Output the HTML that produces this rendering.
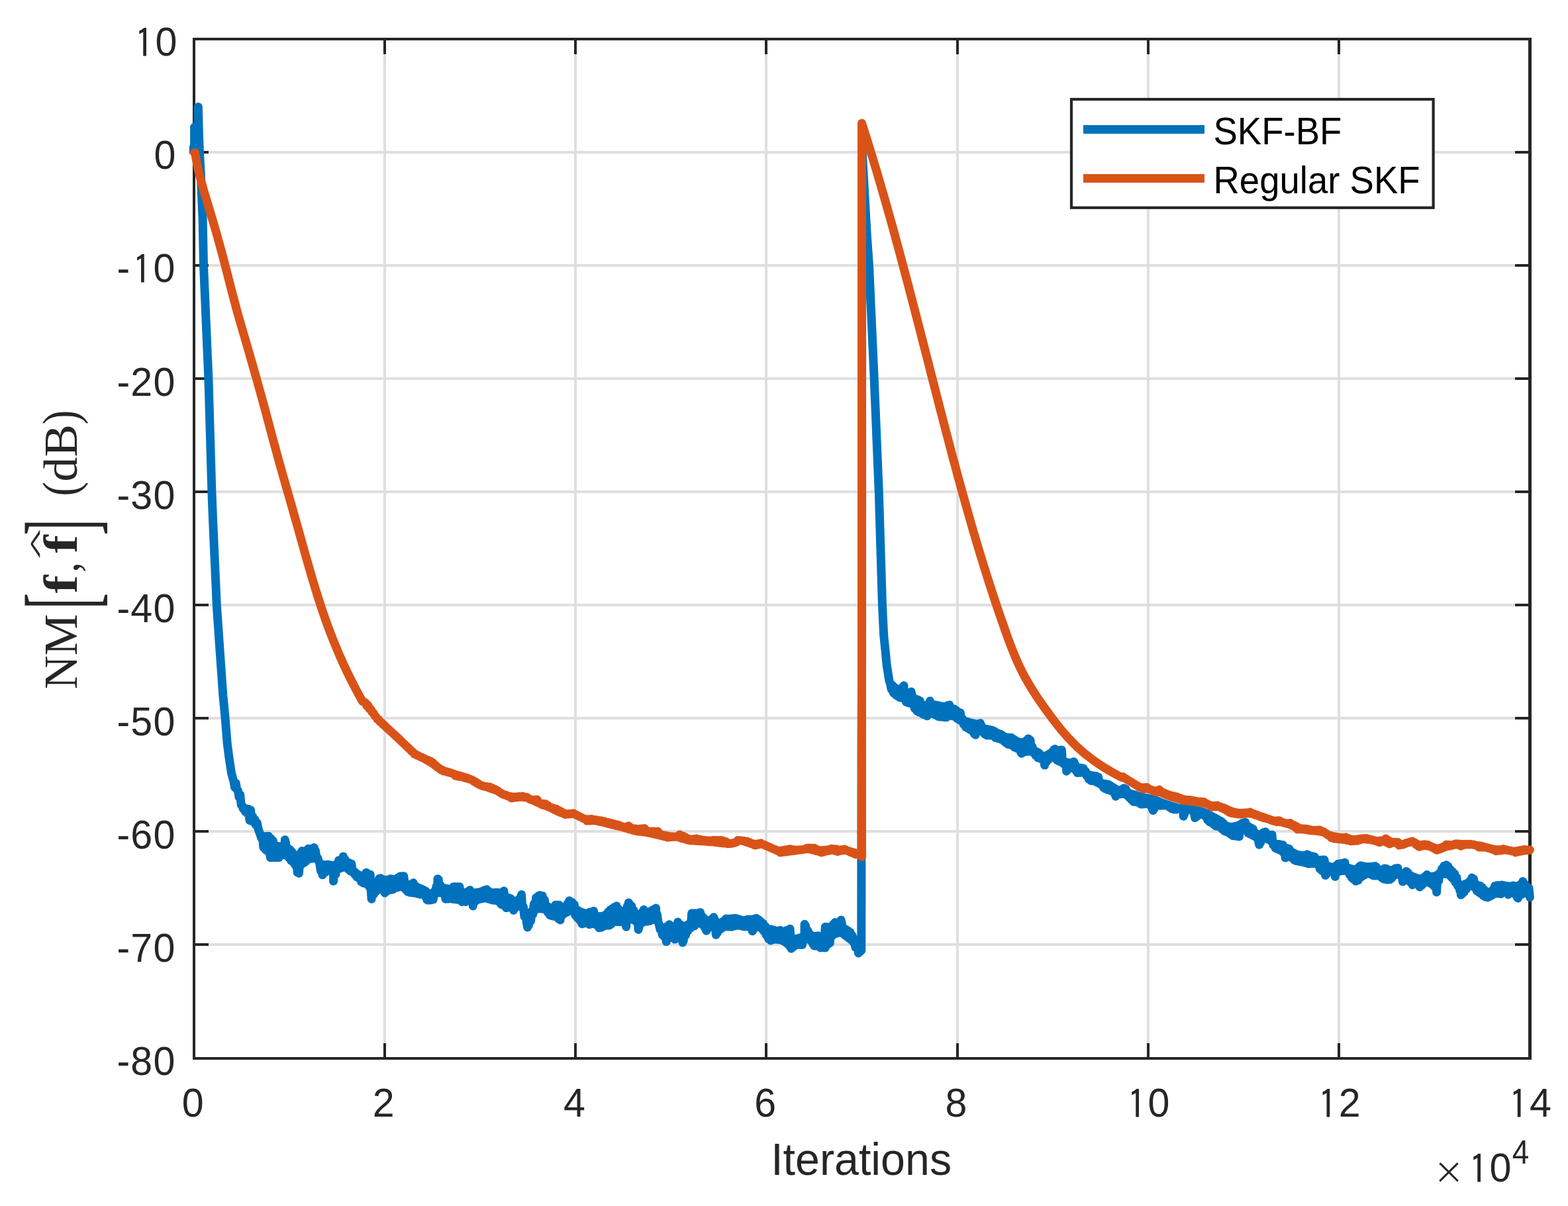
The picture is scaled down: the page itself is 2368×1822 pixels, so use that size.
<!DOCTYPE html>
<html lang="en">
<head>
<meta charset="utf-8">
<title>NM[f, f̂] (dB) vs Iterations — SKF-BF and Regular SKF</title>
<style>
html,body{margin:0;padding:0;background:#fff;}
body{width:2368px;height:1822px;overflow:hidden;}
svg{display:block;}
</style>
</head>
<body>
<svg width="2368" height="1822" viewBox="0 0 2368 1822">
<rect width="2368" height="1822" fill="#fff"/>
<g fill="#dfdfdf" shape-rendering="crispEdges">
<rect x="579" y="61" width="4" height="1536"/>
<rect x="867" y="61" width="4" height="1536"/>
<rect x="1155" y="61" width="4" height="1536"/>
<rect x="1444" y="61" width="4" height="1536"/>
<rect x="1732" y="61" width="4" height="1536"/>
<rect x="2020" y="61" width="4" height="1536"/>
<rect x="295" y="228" width="2013" height="4"/>
<rect x="295" y="399" width="2013" height="4"/>
<rect x="295" y="570" width="2013" height="4"/>
<rect x="295" y="741" width="2013" height="4"/>
<rect x="295" y="912" width="2013" height="4"/>
<rect x="295" y="1083" width="2013" height="4"/>
<rect x="295" y="1254" width="2013" height="4"/>
<rect x="295" y="1425" width="2013" height="4"/>
</g>
<g fill="#262626" shape-rendering="crispEdges">
<rect x="579" y="1576" width="4" height="21"/><rect x="579" y="61" width="4" height="21"/>
<rect x="867" y="1576" width="4" height="21"/><rect x="867" y="61" width="4" height="21"/>
<rect x="1155" y="1576" width="4" height="21"/><rect x="1155" y="61" width="4" height="21"/>
<rect x="1444" y="1576" width="4" height="21"/><rect x="1444" y="61" width="4" height="21"/>
<rect x="1732" y="1576" width="4" height="21"/><rect x="1732" y="61" width="4" height="21"/>
<rect x="2020" y="1576" width="4" height="21"/><rect x="2020" y="61" width="4" height="21"/>
<rect x="295" y="228" width="20" height="4"/><rect x="2288" y="228" width="20" height="4"/>
<rect x="295" y="399" width="20" height="4"/><rect x="2288" y="399" width="20" height="4"/>
<rect x="295" y="570" width="20" height="4"/><rect x="2288" y="570" width="20" height="4"/>
<rect x="295" y="741" width="20" height="4"/><rect x="2288" y="741" width="20" height="4"/>
<rect x="295" y="912" width="20" height="4"/><rect x="2288" y="912" width="20" height="4"/>
<rect x="295" y="1083" width="20" height="4"/><rect x="2288" y="1083" width="20" height="4"/>
<rect x="295" y="1254" width="20" height="4"/><rect x="2288" y="1254" width="20" height="4"/>
<rect x="295" y="1425" width="20" height="4"/><rect x="2288" y="1425" width="20" height="4"/>
<rect x="291" y="57" width="2022" height="4"/><rect x="291" y="1597" width="2022" height="4"/>
<rect x="291" y="57" width="4" height="1544"/><rect x="2308" y="57" width="5" height="1544"/>
</g>
<path d="M292.4 229.0 L292.4 222.0 L293.6 221.0 L293.6 192.2 L299.3 192.2 L299.3 161.5 L300.3 200.0 L301.4 230.0 L303.1 260.0 L306.1 330.0 L307.5 401.2 L314.9 572.3 L319.9 743.5 L321.8 791.5 L327.3 914.5 L332.0 982.3 L336.8 1050.0 L340.1 1084.8 L343.2 1123.3 L346.0 1145.0 L349.5 1168.0 L353.0 1180.7 L354.6 1189.7 L356.2 1183.4 L357.8 1192.9 L359.4 1194.3 L361.0 1204.3 L362.6 1200.5 L364.2 1216.0 L365.8 1217.5 L367.4 1222.3 L369.0 1220.8 L370.6 1226.4 L372.2 1221.7 L373.8 1229.1 L375.4 1222.4 L377.0 1239.4 L378.6 1224.2 L380.2 1240.6 L381.8 1233.9 L383.4 1242.4 L385.0 1238.3 L386.6 1246.7 L388.2 1243.0 L389.9 1251.5 L391.5 1256.8 L393.1 1260.8 L394.7 1266.3 L396.3 1263.5 L397.9 1280.3 L399.5 1263.6 L401.1 1283.8 L402.7 1263.4 L404.3 1286.2 L405.6 1263.3 L405.9 1264.6 L407.5 1288.5 L408.3 1295.6 L409.1 1266.7 L410.7 1295.6 L412.3 1270.2 L413.9 1295.6 L415.5 1277.0 L417.1 1295.6 L418.7 1278.3 L420.3 1293.2 L421.2 1295.6 L421.9 1278.8 L423.5 1291.5 L425.1 1279.2 L426.7 1291.5 L428.3 1278.2 L429.9 1291.8 L430.3 1268.8 L431.5 1273.4 L433.1 1292.6 L434.7 1281.5 L436.3 1295.9 L437.9 1283.6 L439.5 1300.3 L441.1 1287.3 L442.7 1302.6 L444.3 1291.8 L445.9 1307.1 L447.5 1292.4 L449.1 1318.1 L450.7 1292.2 L451.4 1319.4 L452.3 1308.7 L453.9 1288.7 L455.5 1305.9 L456.0 1285.6 L457.1 1286.6 L458.7 1303.7 L460.3 1287.4 L462.0 1301.2 L463.6 1286.7 L465.2 1282.3 L465.2 1298.6 L466.8 1283.8 L468.4 1297.4 L470.0 1282.3 L471.6 1297.0 L473.2 1281.8 L474.3 1280.5 L474.8 1296.6 L476.4 1285.2 L478.0 1296.8 L479.6 1296.0 L481.2 1300.9 L482.8 1304.5 L484.4 1315.8 L486.0 1306.5 L487.1 1321.8 L487.6 1320.2 L489.2 1306.6 L490.8 1318.0 L492.4 1306.4 L494.0 1315.7 L495.6 1306.2 L496.3 1306.2 L497.2 1314.8 L498.8 1306.8 L500.4 1316.1 L502.0 1307.4 L503.6 1321.4 L503.6 1331.3 L505.2 1307.3 L506.8 1320.9 L508.4 1305.3 L510.0 1313.4 L511.6 1299.7 L513.2 1312.0 L514.8 1299.1 L516.4 1311.0 L518.0 1296.9 L518.3 1293.9 L519.6 1310.3 L521.2 1298.7 L522.8 1310.9 L524.4 1302.3 L526.0 1313.4 L527.6 1303.6 L529.2 1316.1 L530.8 1305.2 L532.4 1317.5 L534.1 1315.7 L535.7 1321.3 L537.3 1318.6 L538.9 1325.0 L540.5 1320.9 L542.1 1326.9 L543.7 1322.8 L545.3 1331.8 L546.9 1323.1 L548.5 1334.1 L550.1 1321.7 L551.7 1334.9 L553.1 1318.3 L553.3 1319.5 L554.9 1336.1 L556.5 1333.5 L558.1 1340.5 L559.2 1321.3 L559.7 1338.0 L561.1 1358.2 L561.3 1351.1 L562.9 1339.5 L564.5 1350.8 L566.1 1338.5 L567.7 1347.0 L569.3 1334.7 L570.9 1343.9 L572.5 1327.6 L574.1 1343.4 L574.8 1326.8 L575.7 1327.6 L577.3 1344.3 L578.9 1328.8 L580.5 1347.6 L581.2 1349.0 L582.1 1329.6 L583.7 1346.3 L585.3 1329.0 L586.9 1345.0 L588.5 1328.2 L589.5 1327.7 L590.1 1344.6 L591.7 1328.1 L593.3 1343.7 L594.9 1328.6 L596.5 1341.7 L598.1 1328.1 L599.7 1340.8 L601.3 1325.9 L602.9 1340.0 L604.5 1323.9 L606.1 1339.6 L607.8 1323.8 L609.4 1340.5 L609.7 1323.7 L611.0 1332.7 L612.6 1344.0 L614.2 1336.1 L615.8 1347.3 L617.4 1336.7 L619.0 1348.3 L620.6 1335.9 L622.2 1348.8 L623.8 1334.6 L624.3 1333.8 L625.4 1349.0 L627.0 1338.3 L628.6 1349.5 L630.2 1340.5 L631.8 1350.5 L633.4 1341.7 L635.0 1351.2 L636.6 1342.9 L638.2 1351.5 L639.8 1344.5 L641.4 1353.2 L643.0 1346.4 L644.6 1358.8 L645.4 1360.0 L646.2 1349.3 L647.8 1359.9 L649.4 1350.6 L651.0 1359.8 L652.6 1349.8 L654.2 1358.8 L655.8 1346.8 L657.4 1350.5 L659.0 1339.1 L660.6 1348.8 L661.0 1327.7 L662.2 1328.6 L663.8 1348.7 L665.4 1337.9 L667.0 1348.8 L668.6 1341.0 L670.2 1350.9 L671.8 1341.8 L672.9 1358.2 L673.4 1357.6 L675.0 1342.4 L676.6 1358.0 L678.2 1343.2 L679.9 1357.8 L681.5 1342.9 L683.1 1358.2 L684.7 1341.1 L684.8 1339.7 L686.3 1358.6 L687.9 1339.7 L689.5 1358.9 L691.1 1339.7 L692.7 1359.2 L694.0 1339.7 L694.3 1344.4 L695.9 1359.6 L697.5 1348.1 L697.7 1362.4 L699.1 1361.6 L700.7 1348.7 L702.3 1360.0 L703.2 1362.4 L703.9 1347.9 L705.5 1357.2 L707.1 1346.6 L708.7 1356.2 L709.6 1344.8 L710.3 1346.4 L711.9 1357.4 L713.5 1348.3 L714.2 1368.8 L715.1 1362.7 L716.7 1348.8 L718.3 1361.2 L719.9 1348.4 L721.5 1359.0 L723.1 1348.0 L724.7 1358.3 L726.3 1347.2 L727.9 1357.7 L729.5 1345.8 L731.1 1357.1 L732.7 1344.5 L734.3 1357.2 L735.2 1343.7 L735.9 1344.9 L737.5 1358.1 L739.1 1347.2 L740.7 1359.1 L742.3 1348.6 L743.9 1359.9 L745.5 1348.7 L747.1 1360.3 L748.7 1348.6 L750.3 1360.7 L750.8 1348.5 L752.0 1348.5 L753.6 1362.5 L755.2 1348.8 L756.8 1366.2 L758.4 1348.5 L760.0 1367.6 L760.9 1346.1 L761.6 1352.2 L763.2 1368.8 L764.6 1371.6 L764.8 1355.5 L766.4 1371.1 L768.0 1356.4 L769.6 1370.7 L771.2 1357.7 L772.8 1371.8 L774.4 1360.3 L775.6 1375.2 L776.0 1373.9 L777.6 1361.4 L779.2 1370.7 L780.8 1361.1 L782.4 1369.3 L784.0 1358.3 L785.6 1369.3 L787.2 1352.7 L787.5 1351.6 L788.8 1371.2 L790.4 1369.9 L792.0 1384.7 L793.6 1378.4 L795.2 1392.7 L796.6 1400.9 L796.8 1379.0 L798.4 1397.8 L800.0 1379.2 L801.6 1391.2 L803.2 1376.4 L804.8 1381.1 L806.4 1365.5 L808.0 1375.1 L809.6 1356.2 L811.2 1372.8 L812.8 1353.6 L814.4 1372.6 L815.0 1352.5 L816.0 1352.8 L817.6 1373.0 L819.2 1353.5 L820.8 1373.4 L822.4 1359.6 L824.1 1374.5 L825.7 1368.5 L827.3 1378.5 L828.9 1370.3 L830.5 1382.7 L832.1 1371.5 L833.7 1383.7 L835.3 1371.4 L836.9 1384.3 L838.5 1369.4 L838.8 1367.2 L840.1 1385.2 L841.7 1367.2 L843.3 1388.0 L844.3 1367.2 L844.9 1368.8 L846.1 1389.9 L846.5 1387.1 L848.1 1370.5 L849.7 1382.0 L851.3 1370.6 L852.9 1379.8 L854.5 1368.7 L856.1 1378.2 L857.7 1364.2 L859.3 1376.7 L859.9 1360.7 L860.9 1362.0 L862.5 1376.3 L864.1 1363.4 L865.7 1377.5 L867.3 1366.8 L868.9 1382.9 L870.5 1373.9 L872.1 1387.0 L873.7 1376.0 L875.3 1390.1 L876.9 1377.7 L878.5 1395.1 L879.1 1395.9 L880.1 1378.8 L881.7 1395.0 L883.3 1379.8 L884.9 1394.6 L886.5 1379.7 L888.1 1395.4 L889.7 1378.6 L890.1 1396.7 L891.3 1396.2 L892.9 1377.6 L894.5 1395.5 L896.2 1376.7 L896.6 1376.3 L897.8 1395.8 L899.4 1382.7 L901.0 1397.8 L902.6 1384.4 L904.2 1400.1 L904.8 1401.8 L905.8 1384.4 L907.4 1401.3 L909.0 1383.9 L910.6 1400.0 L912.2 1383.4 L913.8 1398.5 L915.4 1381.2 L917.0 1398.1 L918.6 1377.5 L920.2 1398.1 L921.8 1374.5 L923.4 1395.9 L925.0 1372.3 L926.6 1393.1 L928.2 1370.2 L929.8 1392.5 L931.0 1368.8 L931.4 1370.4 L933.0 1392.5 L934.6 1374.0 L936.2 1392.5 L937.8 1376.3 L939.4 1392.7 L941.0 1376.8 L942.6 1394.3 L944.2 1375.5 L945.7 1400.2 L945.8 1397.5 L947.4 1368.9 L949.0 1390.2 L949.3 1363.7 L950.6 1365.4 L952.2 1389.0 L953.8 1369.1 L955.4 1389.3 L957.0 1375.4 L958.6 1390.9 L960.2 1380.0 L961.8 1393.5 L963.4 1381.5 L964.0 1404.4 L965.0 1400.7 L966.6 1380.9 L968.3 1394.8 L969.9 1378.1 L971.5 1392.8 L972.2 1374.3 L973.1 1375.8 L974.7 1392.3 L976.3 1377.4 L977.9 1392.0 L979.5 1377.8 L981.1 1391.4 L982.7 1376.6 L984.3 1389.8 L985.9 1374.5 L987.5 1389.0 L989.1 1373.0 L990.6 1372.1 L990.7 1389.6 L992.3 1381.4 L993.9 1393.0 L995.5 1397.3 L997.1 1404.5 L998.7 1401.0 L1000.3 1412.3 L1001.9 1401.6 L1003.5 1415.6 L1005.1 1400.8 L1006.2 1422.7 L1006.7 1421.0 L1008.3 1398.9 L1009.9 1417.4 L1010.7 1396.7 L1011.5 1398.2 L1013.1 1416.4 L1014.7 1399.8 L1016.3 1417.0 L1017.9 1399.5 L1019.0 1419.1 L1019.5 1418.5 L1021.1 1397.6 L1022.7 1417.5 L1023.6 1393.0 L1024.3 1394.8 L1025.9 1417.4 L1027.5 1396.8 L1029.1 1419.3 L1030.7 1398.4 L1030.9 1424.0 L1032.3 1420.7 L1033.9 1398.9 L1035.5 1412.8 L1037.1 1398.0 L1038.7 1406.5 L1040.4 1395.9 L1042.0 1402.6 L1043.6 1393.7 L1044.7 1379.8 L1045.2 1400.6 L1046.8 1380.0 L1048.4 1398.9 L1050.0 1379.8 L1051.6 1395.8 L1053.2 1379.7 L1054.8 1394.5 L1056.4 1378.9 L1057.5 1378.4 L1058.0 1395.0 L1059.6 1383.5 L1061.2 1397.4 L1062.8 1386.9 L1064.4 1401.6 L1066.0 1389.7 L1066.7 1406.2 L1067.6 1405.1 L1069.2 1390.6 L1070.8 1400.4 L1072.4 1390.1 L1074.0 1398.7 L1075.6 1388.0 L1077.2 1398.4 L1077.7 1385.7 L1078.8 1387.9 L1080.4 1400.8 L1081.3 1412.3 L1082.0 1393.0 L1083.6 1408.9 L1085.2 1394.2 L1086.8 1404.6 L1088.4 1394.0 L1090.0 1402.5 L1091.6 1392.2 L1093.2 1400.5 L1094.8 1390.4 L1096.0 1388.1 L1096.4 1399.8 L1098.0 1388.2 L1099.6 1400.0 L1101.2 1388.1 L1102.8 1400.1 L1104.4 1388.0 L1105.2 1400.2 L1106.0 1399.8 L1107.6 1387.6 L1109.2 1399.0 L1110.7 1387.2 L1110.8 1387.4 L1112.4 1398.2 L1114.1 1388.2 L1115.7 1398.1 L1117.3 1389.1 L1118.9 1398.8 L1120.5 1390.2 L1122.1 1399.4 L1123.5 1399.8 L1123.7 1390.8 L1125.3 1399.8 L1126.9 1390.0 L1128.5 1399.8 L1129.0 1389.0 L1130.1 1389.0 L1131.7 1400.1 L1133.3 1389.0 L1134.9 1402.2 L1136.3 1406.8 L1136.5 1389.0 L1138.1 1404.0 L1139.7 1388.2 L1141.3 1400.9 L1141.8 1387.2 L1142.9 1387.7 L1144.5 1399.9 L1146.1 1389.8 L1147.7 1400.7 L1149.3 1392.6 L1150.9 1403.8 L1152.5 1395.3 L1154.1 1407.6 L1155.7 1399.5 L1157.3 1413.1 L1158.9 1402.8 L1160.5 1418.4 L1162.1 1403.8 L1163.7 1420.7 L1163.8 1420.9 L1165.3 1404.3 L1166.9 1419.9 L1168.5 1405.3 L1170.1 1419.1 L1171.7 1406.2 L1173.3 1419.3 L1174.9 1406.2 L1176.5 1419.7 L1178.1 1405.8 L1178.5 1405.5 L1179.7 1420.1 L1181.3 1407.1 L1182.9 1421.6 L1184.5 1407.1 L1186.2 1423.8 L1187.8 1405.4 L1189.4 1426.3 L1191.0 1406.2 L1192.6 1429.5 L1193.1 1403.3 L1194.2 1417.4 L1195.0 1433.2 L1195.8 1432.2 L1197.4 1419.0 L1199.0 1429.8 L1200.6 1418.9 L1202.2 1427.6 L1203.8 1417.9 L1205.4 1427.3 L1207.0 1417.0 L1208.6 1427.3 L1210.2 1416.3 L1211.5 1427.3 L1211.8 1424.5 L1213.4 1414.2 L1215.0 1419.8 L1215.1 1396.3 L1216.6 1399.0 L1218.2 1418.4 L1219.8 1405.9 L1221.4 1418.8 L1223.0 1411.0 L1224.6 1421.6 L1226.2 1413.9 L1227.8 1426.4 L1229.4 1414.6 L1229.8 1429.1 L1231.0 1429.0 L1232.6 1414.2 L1234.2 1429.1 L1235.3 1413.7 L1235.8 1415.1 L1237.4 1429.5 L1239.0 1431.9 L1239.0 1416.2 L1240.6 1431.5 L1242.2 1415.9 L1243.8 1431.1 L1245.4 1412.8 L1246.3 1400.3 L1246.3 1431.9 L1247.0 1428.0 L1248.6 1400.6 L1250.2 1427.0 L1251.8 1400.8 L1253.4 1424.7 L1255.0 1399.9 L1256.6 1413.8 L1258.3 1396.4 L1259.9 1411.2 L1261.0 1393.6 L1261.5 1393.8 L1263.1 1410.2 L1264.7 1394.0 L1266.3 1409.3 L1267.9 1393.9 L1269.5 1409.2 L1270.1 1389.9 L1271.1 1394.2 L1272.7 1410.6 L1274.3 1402.1 L1275.9 1413.0 L1277.5 1404.2 L1279.1 1415.4 L1280.7 1406.2 L1282.3 1417.8 L1283.9 1408.3 L1285.5 1420.2 L1287.1 1413.5 L1288.7 1423.6 L1290.3 1418.8 L1291.9 1431.3 L1293.5 1420.1 L1296.5 1440.0 L1300.8 1436.0 L1301.0 1140.0 L1301.6 1000.0 L1301.6 188.0 L1302.3 231.0 L1307.8 330.0 L1309.6 360.8 L1312.5 401.2 L1320.2 572.3 L1327.3 743.5 L1328.7 790.0 L1332.5 914.5 L1334.7 960.0 L1336.6 978.3 L1339.3 1005.8 L1343.0 1029.0 L1344.6 1033.0 L1346.2 1041.6 L1347.8 1035.2 L1349.4 1047.0 L1351.0 1038.3 L1352.6 1049.7 L1354.2 1041.1 L1355.8 1052.0 L1357.4 1041.4 L1359.0 1053.9 L1360.6 1040.1 L1362.2 1054.4 L1363.8 1039.3 L1365.0 1035.8 L1365.4 1055.9 L1367.0 1046.1 L1368.6 1060.7 L1370.2 1047.0 L1371.8 1061.9 L1373.4 1046.5 L1375.0 1062.6 L1376.0 1045.0 L1376.6 1047.0 L1378.2 1064.2 L1379.8 1054.5 L1381.4 1070.4 L1383.0 1056.2 L1384.6 1074.0 L1386.2 1057.2 L1387.8 1076.0 L1389.4 1059.0 L1391.0 1077.1 L1392.7 1064.5 L1394.3 1079.5 L1395.9 1065.8 L1397.5 1079.8 L1399.1 1066.0 L1399.8 1081.8 L1400.7 1077.6 L1402.3 1063.7 L1403.9 1077.4 L1404.4 1059.1 L1405.5 1062.8 L1407.1 1078.3 L1408.7 1064.4 L1410.3 1079.2 L1411.9 1064.9 L1413.5 1080.7 L1415.1 1065.4 L1416.7 1082.5 L1418.3 1066.2 L1419.9 1083.0 L1421.5 1067.0 L1423.1 1083.2 L1424.7 1067.5 L1426.3 1083.5 L1427.9 1067.5 L1429.2 1083.7 L1429.5 1081.9 L1431.1 1065.8 L1432.7 1081.0 L1433.7 1065.1 L1434.3 1068.7 L1435.9 1081.3 L1437.5 1070.1 L1439.1 1081.9 L1440.7 1070.9 L1442.3 1083.2 L1443.9 1072.8 L1445.5 1085.7 L1447.1 1075.6 L1448.7 1087.6 L1450.3 1076.9 L1451.9 1089.3 L1453.5 1085.7 L1455.1 1094.1 L1456.7 1089.0 L1458.3 1098.4 L1459.9 1090.1 L1461.5 1100.2 L1463.1 1091.0 L1464.7 1102.2 L1466.3 1091.9 L1467.9 1104.2 L1469.5 1092.7 L1471.1 1108.4 L1472.7 1093.5 L1473.2 1110.2 L1474.3 1106.6 L1475.9 1093.8 L1477.5 1104.2 L1479.1 1093.2 L1480.5 1092.6 L1480.7 1104.1 L1482.3 1096.7 L1483.9 1105.6 L1485.5 1100.3 L1487.1 1109.1 L1488.8 1101.3 L1490.4 1110.9 L1492.0 1101.8 L1493.6 1111.0 L1495.2 1102.4 L1496.8 1111.1 L1498.4 1103.2 L1500.0 1111.9 L1501.6 1104.7 L1503.2 1114.6 L1504.8 1106.8 L1506.4 1115.5 L1508.0 1108.0 L1509.6 1116.0 L1511.2 1109.2 L1512.8 1117.6 L1514.4 1111.2 L1516.0 1119.8 L1517.6 1113.2 L1519.2 1122.4 L1520.8 1114.1 L1522.4 1124.5 L1524.0 1114.3 L1525.6 1125.0 L1527.2 1114.5 L1528.8 1126.5 L1530.4 1116.4 L1532.0 1129.1 L1533.6 1118.7 L1535.2 1130.3 L1536.8 1120.3 L1538.4 1131.7 L1540.0 1121.2 L1541.6 1136.5 L1542.8 1138.3 L1543.2 1121.9 L1544.8 1136.8 L1546.4 1121.3 L1548.0 1135.9 L1549.6 1118.9 L1551.2 1135.5 L1552.8 1116.4 L1552.9 1115.9 L1554.4 1135.1 L1556.0 1118.4 L1557.6 1135.3 L1559.2 1128.6 L1560.8 1137.5 L1562.4 1134.2 L1564.0 1141.3 L1565.6 1135.7 L1567.2 1144.7 L1568.8 1137.3 L1570.4 1145.9 L1572.0 1140.5 L1573.6 1146.5 L1575.2 1142.3 L1576.8 1149.5 L1577.6 1156.1 L1578.4 1142.2 L1580.0 1151.0 L1581.6 1140.7 L1583.2 1147.8 L1584.9 1138.8 L1586.5 1145.0 L1588.1 1136.5 L1589.7 1144.3 L1591.3 1132.8 L1592.9 1145.3 L1593.2 1131.5 L1594.5 1132.8 L1596.1 1148.4 L1597.7 1133.6 L1599.3 1150.2 L1600.9 1133.3 L1602.5 1151.3 L1603.3 1133.0 L1604.1 1144.7 L1605.7 1153.6 L1607.3 1150.7 L1608.9 1156.3 L1610.5 1151.7 L1610.6 1165.2 L1612.1 1163.4 L1613.7 1152.2 L1615.3 1160.5 L1616.9 1152.5 L1618.5 1159.8 L1620.1 1151.6 L1621.6 1150.7 L1621.7 1161.0 L1623.3 1154.5 L1624.9 1164.5 L1626.5 1158.9 L1627.1 1167.6 L1628.1 1167.1 L1629.7 1159.9 L1631.3 1167.3 L1632.9 1160.2 L1634.5 1167.1 L1636.1 1160.9 L1637.7 1168.1 L1639.3 1165.0 L1640.9 1171.7 L1642.5 1169.5 L1644.1 1177.0 L1645.7 1170.9 L1647.3 1179.5 L1648.9 1171.5 L1650.5 1179.8 L1652.1 1172.1 L1653.7 1180.5 L1655.3 1172.4 L1656.9 1182.1 L1658.5 1173.8 L1660.1 1183.7 L1661.7 1181.4 L1663.3 1185.9 L1664.9 1183.5 L1666.5 1189.8 L1668.1 1184.1 L1669.7 1192.0 L1671.3 1184.7 L1672.9 1193.4 L1674.5 1185.4 L1676.1 1194.2 L1677.7 1187.4 L1679.3 1195.2 L1680.9 1189.4 L1682.6 1198.2 L1684.2 1191.6 L1684.9 1203.2 L1685.8 1201.2 L1687.4 1193.4 L1689.0 1200.1 L1690.6 1193.7 L1692.2 1199.7 L1693.8 1192.8 L1695.4 1199.3 L1697.0 1191.8 L1697.3 1190.7 L1698.6 1199.5 L1700.2 1192.2 L1701.8 1201.4 L1703.4 1196.7 L1705.0 1204.7 L1706.6 1198.8 L1708.2 1207.9 L1709.8 1199.7 L1711.4 1211.1 L1713.0 1200.7 L1714.6 1211.5 L1716.2 1201.6 L1717.8 1212.0 L1719.4 1202.6 L1721.0 1213.4 L1722.6 1203.6 L1723.0 1215.0 L1724.2 1214.9 L1725.8 1204.4 L1727.4 1214.7 L1729.0 1205.1 L1730.6 1214.5 L1732.2 1205.7 L1733.8 1214.7 L1735.4 1206.4 L1737.0 1216.8 L1738.6 1207.0 L1740.2 1221.9 L1741.3 1224.5 L1741.8 1207.6 L1743.4 1221.3 L1745.0 1208.7 L1746.6 1217.9 L1748.2 1209.9 L1749.8 1217.1 L1751.4 1211.2 L1753.0 1217.0 L1754.6 1212.5 L1756.2 1216.9 L1757.8 1213.8 L1759.4 1216.8 L1761.0 1215.1 L1762.6 1217.5 L1764.2 1216.0 L1765.8 1219.5 L1767.4 1217.0 L1769.0 1221.6 L1770.6 1218.0 L1772.2 1222.8 L1773.8 1218.9 L1775.4 1222.4 L1776.2 1223.0 L1777.0 1219.9 L1778.7 1221.0 L1780.3 1220.9 L1781.9 1221.2 L1783.5 1221.2 L1785.1 1224.0 L1786.7 1221.5 L1787.2 1233.3 L1788.3 1230.8 L1789.9 1221.8 L1791.5 1225.2 L1793.1 1222.2 L1794.7 1223.1 L1796.3 1222.6 L1797.9 1222.8 L1799.5 1222.8 L1801.1 1225.3 L1802.7 1223.5 L1804.3 1233.2 L1804.6 1235.5 L1805.9 1224.1 L1807.5 1233.2 L1809.1 1224.8 L1810.7 1231.3 L1812.3 1225.4 L1813.9 1230.2 L1815.5 1226.0 L1817.1 1230.5 L1818.7 1227.4 L1820.3 1233.3 L1821.9 1229.0 L1823.5 1238.6 L1825.1 1230.6 L1826.7 1241.7 L1828.3 1232.2 L1829.9 1243.3 L1831.5 1233.8 L1833.1 1245.9 L1834.7 1235.5 L1836.3 1248.0 L1837.9 1237.4 L1839.5 1248.4 L1841.1 1239.2 L1842.7 1249.9 L1844.3 1241.0 L1845.9 1252.7 L1847.5 1243.7 L1849.1 1255.5 L1850.7 1246.9 L1852.3 1256.7 L1853.9 1248.4 L1855.5 1257.9 L1857.1 1248.9 L1858.7 1260.6 L1860.3 1249.4 L1861.9 1262.7 L1863.5 1248.8 L1865.1 1263.1 L1866.7 1248.0 L1868.3 1263.5 L1869.9 1247.2 L1871.5 1263.9 L1871.5 1256.0 L1873.1 1245.4 L1874.7 1253.7 L1876.4 1243.4 L1878.0 1253.1 L1879.6 1242.5 L1880.7 1242.1 L1881.2 1254.5 L1882.8 1246.8 L1884.4 1258.2 L1886.0 1248.8 L1887.6 1260.0 L1889.2 1250.7 L1890.8 1261.4 L1892.4 1252.7 L1894.0 1263.2 L1895.6 1258.2 L1897.2 1265.1 L1898.8 1260.9 L1900.4 1270.1 L1901.7 1276.2 L1902.0 1261.1 L1903.6 1272.9 L1905.2 1259.7 L1906.8 1268.2 L1908.4 1257.6 L1910.0 1266.8 L1910.9 1256.7 L1911.6 1260.6 L1913.2 1267.1 L1914.8 1261.3 L1916.4 1268.9 L1918.0 1261.3 L1919.6 1271.0 L1921.0 1261.3 L1921.2 1264.9 L1922.8 1276.7 L1924.4 1273.7 L1926.0 1281.2 L1927.6 1275.0 L1929.2 1282.8 L1930.8 1275.4 L1932.4 1284.2 L1934.0 1275.8 L1935.6 1285.6 L1937.2 1276.5 L1938.8 1289.0 L1940.4 1280.5 L1941.1 1296.0 L1942.0 1295.3 L1943.6 1281.5 L1945.2 1294.4 L1946.8 1282.4 L1948.4 1294.5 L1950.0 1286.6 L1951.6 1296.4 L1953.2 1288.3 L1954.8 1299.6 L1956.4 1289.9 L1958.0 1300.7 L1959.6 1291.3 L1961.2 1301.3 L1962.8 1291.8 L1964.4 1301.9 L1966.0 1292.2 L1967.6 1302.4 L1969.2 1292.4 L1970.8 1303.3 L1972.5 1291.6 L1974.1 1304.3 L1974.1 1290.7 L1975.7 1291.7 L1976.0 1305.1 L1977.3 1305.0 L1978.9 1292.9 L1980.5 1304.7 L1982.1 1293.7 L1983.7 1304.4 L1985.3 1294.6 L1986.9 1304.6 L1988.5 1298.1 L1990.1 1306.6 L1991.7 1299.4 L1993.3 1313.0 L1994.9 1299.3 L1996.5 1315.5 L1998.1 1299.0 L1999.7 1318.1 L1999.8 1298.9 L2001.3 1305.0 L2001.6 1322.6 L2002.9 1321.2 L2004.5 1308.3 L2006.1 1317.6 L2007.7 1309.2 L2009.3 1316.3 L2010.9 1309.7 L2012.5 1316.9 L2014.1 1309.7 L2015.7 1319.8 L2016.3 1324.4 L2017.3 1308.0 L2018.9 1318.4 L2020.5 1305.3 L2022.1 1316.4 L2023.7 1304.7 L2025.3 1315.9 L2026.9 1304.2 L2028.5 1315.5 L2030.1 1303.9 L2031.0 1303.1 L2031.7 1315.3 L2033.3 1309.4 L2034.9 1316.6 L2036.5 1311.5 L2038.1 1321.5 L2039.7 1312.3 L2041.3 1326.2 L2042.9 1313.1 L2044.5 1328.6 L2046.1 1313.5 L2047.5 1331.2 L2047.7 1330.4 L2049.3 1312.4 L2050.9 1329.9 L2052.5 1309.4 L2054.1 1326.1 L2054.8 1307.7 L2055.7 1308.1 L2057.3 1323.9 L2058.9 1308.8 L2060.5 1321.9 L2062.1 1309.4 L2063.7 1320.2 L2065.3 1309.4 L2066.9 1320.0 L2068.6 1309.4 L2070.2 1321.2 L2071.8 1309.2 L2073.4 1322.7 L2075.0 1308.8 L2076.6 1323.1 L2076.8 1308.6 L2076.8 1323.1 L2078.2 1309.6 L2079.8 1322.8 L2081.4 1313.1 L2083.0 1323.6 L2084.6 1314.3 L2086.2 1325.7 L2087.8 1314.0 L2089.4 1327.9 L2090.8 1312.0 L2091.0 1312.6 L2092.6 1328.6 L2094.2 1312.5 L2094.5 1329.0 L2095.8 1328.9 L2097.4 1314.5 L2099.0 1328.8 L2100.6 1315.0 L2102.2 1326.4 L2103.8 1313.9 L2105.4 1322.5 L2107.0 1312.1 L2108.6 1320.6 L2110.2 1312.0 L2111.0 1311.4 L2111.8 1321.1 L2113.4 1318.2 L2115.0 1322.8 L2116.6 1320.0 L2118.2 1329.4 L2118.3 1332.0 L2119.8 1320.4 L2121.4 1330.1 L2123.0 1318.7 L2123.8 1316.4 L2124.6 1329.7 L2126.2 1318.4 L2127.8 1330.9 L2129.4 1322.2 L2131.0 1334.1 L2132.6 1323.8 L2133.0 1336.9 L2134.2 1336.1 L2135.8 1325.2 L2137.4 1335.2 L2139.0 1326.5 L2140.6 1335.5 L2142.2 1327.2 L2143.8 1337.6 L2144.0 1340.0 L2145.4 1327.8 L2147.0 1337.6 L2148.6 1327.1 L2150.2 1334.4 L2151.8 1324.2 L2153.4 1332.5 L2155.0 1321.5 L2155.0 1322.3 L2156.6 1332.6 L2158.2 1323.8 L2159.8 1334.2 L2161.4 1324.2 L2163.0 1336.4 L2164.6 1323.9 L2166.3 1339.5 L2167.9 1323.4 L2169.5 1345.3 L2169.6 1347.9 L2171.1 1321.4 L2172.7 1330.6 L2174.3 1318.6 L2175.9 1321.8 L2177.5 1312.5 L2179.1 1320.5 L2180.7 1308.2 L2182.3 1320.4 L2183.9 1307.0 L2184.3 1306.8 L2185.5 1320.6 L2187.1 1309.1 L2188.7 1322.1 L2190.3 1313.6 L2191.9 1325.3 L2193.5 1316.8 L2195.1 1328.6 L2196.7 1320.2 L2198.3 1333.4 L2199.9 1325.9 L2201.5 1338.5 L2203.1 1335.1 L2204.7 1345.5 L2206.3 1337.0 L2206.3 1352.1 L2207.9 1350.7 L2209.5 1336.7 L2211.1 1347.7 L2212.7 1335.6 L2214.3 1343.4 L2215.9 1334.3 L2217.5 1340.0 L2219.1 1331.5 L2220.7 1338.5 L2222.3 1328.4 L2222.8 1326.1 L2223.9 1338.5 L2225.5 1328.0 L2227.1 1340.9 L2228.7 1335.4 L2230.3 1346.0 L2231.9 1337.7 L2233.5 1348.2 L2235.1 1338.2 L2236.7 1350.4 L2238.3 1340.6 L2239.9 1353.0 L2241.5 1344.5 L2243.1 1355.0 L2244.7 1346.9 L2246.3 1355.5 L2246.6 1355.8 L2247.9 1348.0 L2249.5 1354.5 L2251.1 1347.3 L2252.7 1352.9 L2254.3 1344.4 L2255.9 1350.8 L2257.5 1338.5 L2259.1 1349.8 L2260.7 1337.7 L2262.4 1350.0 L2264.0 1337.4 L2265.6 1349.8 L2266.8 1350.6 L2267.2 1337.2 L2268.6 1337.1 L2268.8 1347.6 L2270.4 1337.6 L2272.0 1347.1 L2273.6 1338.3 L2275.2 1348.2 L2276.8 1338.6 L2277.8 1351.6 L2278.4 1350.5 L2280.0 1338.9 L2281.6 1349.1 L2283.2 1338.4 L2284.8 1349.0 L2285.1 1338.0 L2286.4 1338.3 L2288.0 1350.9 L2289.6 1338.8 L2291.2 1355.4 L2292.5 1357.1 L2292.8 1338.4 L2294.4 1353.6 L2296.0 1336.2 L2297.6 1351.4 L2299.2 1333.0 L2299.8 1331.6 L2300.8 1349.4 L2302.4 1335.5 L2304.0 1348.9 L2305.6 1339.4 L2307.2 1350.4 L2308.8 1341.3 L2310.4 1355.6" fill="none" stroke="#0072bd" stroke-width="13.0" stroke-linejoin="round" stroke-linecap="round"/>
<path d="M289.6 235.6 L294.6 230.8 L295.1 233.8 L295.6 236.8 L296.1 239.8 L296.6 242.8 L297.2 245.8 L297.8 248.8 L298.5 251.8 L299.1 254.8 L299.8 257.8 L300.5 260.8 L301.3 263.8 L302.0 266.8 L302.8 269.8 L303.6 272.8 L304.4 275.8 L305.2 278.8 L306.0 281.8 L306.9 284.8 L307.7 287.8 L308.6 290.8 L309.5 293.9 L310.4 296.9 L311.3 299.9 L312.2 302.9 L313.1 305.9 L314.0 308.9 L314.9 311.9 L315.8 314.9 L316.7 317.9 L317.6 320.9 L318.5 323.9 L319.4 326.9 L320.3 329.9 L321.2 332.9 L322.1 335.9 L323.0 338.9 L323.9 341.9 L324.7 344.9 L325.6 347.9 L326.5 350.9 L327.3 353.9 L328.2 356.9 L329.0 359.9 L329.8 362.9 L330.7 365.9 L331.5 368.9 L332.3 371.9 L333.1 374.9 L333.9 377.9 L334.8 380.9 L335.6 383.9 L336.4 386.9 L337.2 389.9 L337.9 392.9 L338.7 395.9 L339.5 398.9 L340.3 401.9 L341.1 404.9 L341.9 407.9 L342.6 410.9 L343.4 414.0 L344.2 417.0 L344.9 420.0 L345.7 423.0 L346.5 426.0 L347.2 429.0 L348.0 432.0 L348.8 435.0 L349.6 438.0 L350.3 441.0 L351.1 444.0 L351.9 447.0 L352.7 450.0 L353.5 453.0 L354.3 456.0 L355.1 459.0 L355.9 462.0 L356.7 465.0 L357.5 468.0 L358.3 471.0 L359.2 474.0 L360.0 477.0 L360.9 480.0 L361.7 483.0 L362.6 486.0 L363.4 489.0 L364.3 492.0 L365.2 495.0 L366.1 498.0 L366.9 501.0 L367.8 504.0 L368.7 507.0 L369.6 510.0 L370.4 513.0 L371.3 516.0 L372.2 519.0 L373.1 522.0 L373.9 525.0 L374.8 528.0 L375.7 531.0 L376.6 534.1 L377.4 537.1 L378.3 540.1 L379.1 543.1 L380.0 546.1 L380.9 549.1 L381.7 552.1 L382.6 555.1 L383.4 558.1 L384.3 561.1 L385.1 564.1 L386.0 567.1 L386.8 570.1 L387.7 573.1 L388.5 576.1 L389.3 579.1 L390.2 582.1 L391.0 585.1 L391.8 588.1 L392.7 591.1 L393.5 594.1 L394.3 597.1 L395.2 600.1 L396.0 603.1 L396.8 606.1 L397.6 609.1 L398.4 612.1 L399.3 615.1 L400.1 618.1 L400.9 621.1 L401.7 624.1 L402.5 627.1 L403.3 630.1 L404.1 633.1 L404.9 636.1 L405.7 639.1 L406.5 642.1 L407.3 645.1 L408.1 648.1 L408.9 651.1 L409.7 654.2 L410.5 657.2 L411.3 660.2 L412.1 663.2 L412.9 666.2 L413.7 669.2 L414.6 672.2 L415.4 675.2 L416.2 678.2 L417.0 681.2 L417.8 684.2 L418.6 687.2 L419.4 690.2 L420.3 693.2 L421.1 696.2 L421.9 699.2 L422.8 702.2 L423.6 705.2 L424.5 708.2 L425.3 711.2 L426.1 714.2 L427.0 717.2 L427.8 720.2 L428.7 723.2 L429.6 726.2 L430.4 729.2 L431.3 732.2 L432.1 735.2 L433.0 738.2 L433.8 741.2 L434.7 744.2 L435.6 747.2 L436.4 750.2 L437.3 753.2 L438.2 756.2 L439.0 759.2 L439.9 762.2 L440.7 765.2 L441.6 768.2 L442.5 771.2 L443.3 774.3 L444.2 777.3 L445.0 780.3 L445.9 783.3 L446.7 786.3 L447.6 789.3 L448.4 792.3 L449.3 795.3 L450.1 798.3 L451.0 801.3 L451.8 804.3 L452.6 807.3 L453.5 810.3 L454.3 813.3 L455.2 816.3 L456.0 819.3 L456.8 822.3 L457.7 825.3 L458.5 828.3 L459.3 831.3 L460.2 834.3 L461.0 837.3 L461.9 840.3 L462.7 843.3 L463.6 846.3 L464.4 849.3 L465.3 852.3 L466.2 855.3 L467.0 858.3 L467.9 861.3 L468.8 864.3 L469.6 867.3 L470.5 870.3 L471.4 873.3 L472.3 876.3 L473.2 879.3 L474.1 882.3 L475.0 885.3 L475.9 888.3 L476.8 891.3 L477.8 894.3 L478.7 897.4 L479.7 900.4 L480.6 903.4 L481.6 906.4 L482.5 909.4 L483.5 912.4 L484.5 915.4 L485.5 918.4 L486.5 921.4 L487.5 924.4 L488.6 927.4 L489.6 930.4 L490.6 933.4 L491.7 936.4 L492.8 939.4 L493.8 942.4 L494.9 945.4 L496.0 948.4 L497.2 951.4 L498.3 954.4 L499.4 957.4 L500.6 960.4 L501.8 963.4 L502.9 966.4 L504.1 969.4 L505.4 972.4 L506.6 975.4 L507.8 978.4 L509.1 981.4 L510.4 984.4 L511.6 987.4 L512.9 990.4 L514.3 993.4 L515.6 996.4 L516.9 999.4 L518.3 1002.4 L519.7 1005.4 L521.1 1008.4 L522.5 1011.4 L523.9 1014.4 L525.4 1017.5 L526.8 1020.5 L528.3 1023.5 L529.8 1026.5 L531.3 1029.5 L532.9 1032.5 L534.4 1035.5 L536.0 1038.5 L537.5 1041.5 L539.1 1044.5 L540.7 1047.5 L542.4 1050.5 L544.0 1053.5 L545.6 1056.5 L547.3 1059.5 L552.0 1061.7 L554.0 1066.5 L556.0 1065.9 L558.0 1071.1 L560.0 1071.6 L562.0 1076.0 L564.0 1077.4 L566.0 1081.4 L568.0 1083.0 L570.0 1086.7 L572.0 1087.2 L574.0 1090.6 L576.0 1091.2 L578.0 1094.1 L580.0 1095.2 L582.0 1097.4 L584.0 1099.3 L586.0 1101.1 L588.0 1103.0 L590.0 1104.9 L592.0 1106.7 L594.0 1108.5 L596.0 1110.3 L598.0 1112.2 L600.0 1114.0 L602.0 1115.9 L604.0 1117.9 L606.0 1119.8 L608.0 1121.7 L610.0 1123.6 L612.0 1125.5 L614.0 1127.4 L616.0 1129.3 L618.0 1131.2 L620.0 1133.1 L622.0 1135.3 L624.0 1136.6 L626.0 1139.3 L628.0 1139.6 L630.0 1141.3 L632.0 1141.6 L634.0 1143.1 L636.0 1143.8 L638.0 1144.7 L640.0 1145.7 L642.0 1146.5 L644.0 1148.1 L646.0 1148.2 L648.0 1150.4 L650.0 1149.9 L652.0 1152.7 L654.0 1152.5 L656.0 1155.7 L658.0 1156.2 L660.0 1158.7 L662.0 1160.0 L664.0 1161.3 L666.0 1163.2 L668.0 1163.3 L670.0 1165.0 L672.0 1165.3 L674.0 1165.8 L676.0 1166.4 L678.0 1166.9 L680.0 1167.4 L682.0 1168.0 L684.0 1169.0 L686.0 1169.4 L688.0 1172.2 L690.0 1170.6 L692.0 1172.9 L694.0 1171.8 L696.0 1173.5 L698.0 1173.0 L700.0 1174.5 L702.0 1174.2 L704.0 1175.7 L706.0 1175.4 L708.0 1176.8 L710.0 1177.2 L712.0 1178.1 L714.0 1179.0 L716.0 1180.8 L718.0 1181.0 L720.0 1183.5 L722.0 1183.5 L724.0 1185.6 L726.0 1186.2 L728.0 1187.1 L730.0 1187.7 L732.0 1188.1 L734.0 1188.6 L736.0 1188.6 L738.0 1190.1 L740.0 1189.2 L742.0 1191.5 L744.0 1190.9 L746.0 1192.9 L748.0 1192.5 L750.0 1194.4 L752.0 1194.9 L754.0 1196.8 L756.0 1197.8 L758.0 1199.1 L760.0 1200.1 L762.0 1200.8 L764.0 1201.2 L766.0 1202.5 L768.0 1202.4 L770.0 1204.1 L772.0 1203.5 L772.8 1205.7 L774.0 1205.5 L776.0 1203.9 L778.0 1205.0 L780.0 1203.7 L782.0 1204.6 L784.0 1203.4 L786.0 1204.2 L788.0 1203.2 L789.3 1203.1 L790.0 1204.5 L792.0 1203.7 L794.0 1204.8 L796.0 1204.6 L798.0 1206.1 L800.0 1207.2 L802.0 1208.1 L804.0 1208.7 L806.0 1209.6 L808.0 1208.3 L810.0 1211.6 L811.3 1208.0 L812.0 1210.5 L814.0 1213.6 L816.0 1213.5 L818.0 1215.5 L820.0 1214.2 L822.0 1216.8 L824.0 1214.6 L826.0 1218.2 L828.0 1217.1 L830.0 1219.7 L832.0 1219.7 L834.0 1221.7 L836.0 1221.0 L838.0 1223.7 L840.0 1222.2 L842.0 1225.7 L844.0 1224.1 L846.0 1227.6 L848.0 1226.4 L850.0 1228.9 L852.0 1228.7 L853.5 1230.4 L854.0 1230.2 L856.0 1229.6 L858.0 1230.1 L860.0 1229.3 L862.0 1229.8 L864.0 1229.0 L866.0 1229.4 L866.3 1228.7 L868.0 1230.1 L870.0 1231.0 L872.0 1232.0 L874.0 1233.0 L876.0 1234.0 L878.0 1235.0 L880.0 1236.0 L882.0 1237.0 L884.0 1237.8 L886.0 1239.0 L886.5 1240.1 L888.0 1237.7 L890.0 1239.9 L892.0 1237.5 L893.8 1237.4 L894.0 1239.7 L896.0 1237.9 L898.0 1239.6 L900.0 1238.6 L902.0 1240.4 L904.0 1239.3 L906.0 1241.3 L908.0 1240.0 L910.0 1242.1 L912.0 1240.9 L914.0 1243.2 L916.0 1241.9 L918.0 1244.2 L920.0 1243.0 L922.0 1245.2 L924.0 1244.0 L926.0 1246.2 L928.0 1245.0 L930.0 1247.2 L932.0 1246.0 L934.0 1248.2 L936.0 1247.2 L938.0 1249.2 L940.0 1248.7 L942.0 1250.3 L944.0 1249.6 L946.0 1251.5 L948.0 1248.6 L949.3 1247.8 L950.0 1252.7 L952.0 1249.9 L954.0 1253.9 L956.0 1251.5 L958.0 1255.1 L960.0 1252.0 L962.0 1255.7 L964.0 1252.4 L966.0 1256.2 L968.0 1252.0 L970.0 1256.8 L972.0 1251.9 L973.2 1251.5 L974.0 1257.3 L976.0 1254.4 L978.0 1257.9 L980.0 1256.1 L982.0 1258.8 L984.0 1256.1 L986.0 1259.7 L988.0 1256.1 L990.0 1260.7 L992.0 1256.4 L993.3 1256.1 L994.0 1261.6 L996.0 1258.8 L998.0 1262.5 L1000.0 1261.1 L1002.0 1263.5 L1004.0 1262.0 L1006.0 1264.4 L1008.0 1265.1 L1008.0 1262.8 L1010.0 1264.9 L1012.0 1263.5 L1014.0 1264.6 L1016.0 1264.0 L1018.0 1264.3 L1020.0 1264.2 L1022.0 1264.3 L1024.0 1262.7 L1026.0 1265.4 L1026.3 1261.0 L1028.0 1261.9 L1030.0 1266.6 L1032.0 1263.3 L1034.0 1267.8 L1036.0 1265.3 L1038.0 1269.0 L1040.0 1267.3 L1042.0 1269.8 L1044.0 1267.9 L1046.0 1270.1 L1048.0 1267.5 L1050.0 1270.3 L1052.0 1267.1 L1052.0 1267.2 L1054.0 1270.5 L1056.0 1268.0 L1058.0 1270.8 L1060.0 1268.8 L1062.0 1271.0 L1064.0 1269.4 L1066.0 1271.2 L1068.0 1269.9 L1070.0 1271.5 L1072.0 1270.1 L1074.0 1271.9 L1076.0 1269.7 L1077.7 1269.5 L1078.0 1272.3 L1080.0 1269.5 L1082.0 1272.8 L1084.0 1269.5 L1086.0 1273.2 L1088.0 1269.5 L1088.7 1269.5 L1090.0 1273.7 L1092.0 1270.1 L1094.0 1274.1 L1096.0 1271.5 L1098.0 1274.6 L1099.7 1274.8 L1100.0 1273.5 L1102.0 1274.4 L1104.0 1274.4 L1106.0 1274.1 L1108.0 1273.5 L1110.0 1272.9 L1112.0 1272.1 L1114.0 1271.0 L1114.3 1269.5 L1116.0 1269.9 L1118.0 1269.7 L1120.0 1269.9 L1122.0 1270.6 L1124.0 1270.4 L1126.0 1272.0 L1128.0 1271.2 L1130.0 1273.3 L1132.0 1272.6 L1134.0 1274.6 L1136.0 1274.2 L1138.0 1276.0 L1140.0 1277.0 L1140.0 1275.3 L1142.0 1276.6 L1144.0 1274.8 L1146.0 1275.9 L1148.0 1274.1 L1149.1 1273.9 L1150.0 1275.1 L1152.0 1275.5 L1154.0 1276.3 L1156.0 1277.2 L1158.0 1278.1 L1160.0 1279.0 L1162.0 1279.9 L1164.0 1280.8 L1166.0 1281.6 L1168.0 1282.5 L1170.0 1283.3 L1172.0 1284.2 L1174.0 1285.0 L1176.0 1286.2 L1178.0 1285.3 L1178.5 1288.0 L1180.0 1287.8 L1182.0 1284.6 L1184.0 1287.3 L1186.0 1283.9 L1188.0 1286.8 L1190.0 1283.2 L1192.0 1286.3 L1193.1 1282.7 L1194.0 1282.9 L1196.0 1285.8 L1198.0 1283.5 L1200.0 1285.2 L1202.0 1284.1 L1204.0 1284.7 L1206.0 1283.9 L1208.0 1284.0 L1210.0 1283.8 L1212.0 1283.6 L1214.0 1283.2 L1216.0 1283.1 L1218.0 1281.8 L1218.8 1281.2 L1220.0 1282.5 L1222.0 1281.2 L1224.0 1283.2 L1226.0 1281.2 L1228.0 1284.3 L1229.8 1281.2 L1230.0 1281.8 L1232.0 1285.4 L1234.0 1283.4 L1236.0 1286.4 L1238.0 1284.8 L1240.0 1287.5 L1240.8 1288.0 L1242.0 1284.6 L1244.0 1287.0 L1246.0 1284.3 L1248.0 1286.0 L1250.0 1283.9 L1252.0 1285.0 L1254.0 1282.9 L1255.5 1282.3 L1256.0 1284.4 L1258.0 1282.4 L1260.0 1285.2 L1262.0 1282.7 L1264.0 1286.2 L1264.6 1286.5 L1266.0 1283.7 L1268.0 1285.7 L1270.0 1283.9 L1272.0 1284.9 L1274.0 1283.3 L1275.6 1283.0 L1276.0 1284.4 L1278.0 1284.3 L1280.0 1285.6 L1282.0 1285.7 L1284.0 1287.4 L1286.0 1287.0 L1288.0 1289.1 L1290.0 1288.2 L1292.0 1290.7 L1294.0 1289.1 L1301.5 1294.5 L1301.5 186.2 L1302.5 189.3 L1303.5 192.3 L1304.4 195.3 L1305.4 198.3 L1306.3 201.3 L1307.3 204.3 L1308.2 207.3 L1309.1 210.3 L1310.1 213.3 L1311.0 216.3 L1311.9 219.3 L1312.9 222.3 L1313.8 225.3 L1314.7 228.3 L1315.6 231.3 L1316.5 234.3 L1317.5 237.3 L1318.4 240.3 L1319.3 243.3 L1320.2 246.3 L1321.1 249.3 L1322.0 252.3 L1322.9 255.3 L1323.8 258.3 L1324.7 261.3 L1325.6 264.3 L1326.4 267.3 L1327.3 270.3 L1328.2 273.4 L1329.1 276.4 L1330.0 279.4 L1330.8 282.4 L1331.7 285.4 L1332.6 288.4 L1333.4 291.4 L1334.3 294.4 L1335.2 297.4 L1336.0 300.4 L1336.9 303.4 L1337.7 306.4 L1338.6 309.4 L1339.4 312.4 L1340.3 315.4 L1341.1 318.4 L1342.0 321.4 L1342.8 324.4 L1343.7 327.4 L1344.5 330.4 L1345.3 333.4 L1346.2 336.4 L1347.0 339.4 L1347.8 342.4 L1348.7 345.4 L1349.5 348.4 L1350.3 351.4 L1351.2 354.4 L1352.0 357.5 L1352.8 360.5 L1353.6 363.5 L1354.4 366.5 L1355.2 369.5 L1356.1 372.5 L1356.9 375.5 L1357.7 378.5 L1358.5 381.5 L1359.3 384.5 L1360.1 387.5 L1360.9 390.5 L1361.7 393.5 L1362.5 396.5 L1363.3 399.5 L1364.1 402.5 L1364.9 405.5 L1365.7 408.5 L1366.5 411.5 L1367.3 414.5 L1368.1 417.5 L1368.9 420.5 L1369.7 423.5 L1370.5 426.5 L1371.3 429.5 L1372.1 432.5 L1372.8 435.5 L1373.6 438.5 L1374.4 441.5 L1375.2 444.6 L1376.0 447.6 L1376.8 450.6 L1377.6 453.6 L1378.3 456.6 L1379.1 459.6 L1379.9 462.6 L1380.7 465.6 L1381.5 468.6 L1382.2 471.6 L1383.0 474.6 L1383.8 477.6 L1384.6 480.6 L1385.3 483.6 L1386.1 486.6 L1386.9 489.6 L1387.7 492.6 L1388.4 495.6 L1389.2 498.6 L1390.0 501.6 L1390.7 504.6 L1391.5 507.6 L1392.3 510.6 L1393.1 513.6 L1393.8 516.6 L1394.6 519.6 L1395.4 522.6 L1396.1 525.6 L1396.9 528.7 L1397.7 531.7 L1398.4 534.7 L1399.2 537.7 L1400.0 540.7 L1400.8 543.7 L1401.5 546.7 L1402.3 549.7 L1403.1 552.7 L1403.8 555.7 L1404.6 558.7 L1405.4 561.7 L1406.1 564.7 L1406.9 567.7 L1407.7 570.7 L1408.4 573.7 L1409.2 576.7 L1410.0 579.7 L1410.8 582.7 L1411.5 585.7 L1412.3 588.7 L1413.1 591.7 L1413.8 594.7 L1414.6 597.7 L1415.4 600.7 L1416.2 603.7 L1416.9 606.7 L1417.7 609.7 L1418.5 612.8 L1419.3 615.8 L1420.0 618.8 L1420.8 621.8 L1421.6 624.8 L1422.4 627.8 L1423.2 630.8 L1423.9 633.8 L1424.7 636.8 L1425.5 639.8 L1426.3 642.8 L1427.1 645.8 L1427.8 648.8 L1428.6 651.8 L1429.4 654.8 L1430.2 657.8 L1431.0 660.8 L1431.8 663.8 L1432.6 666.8 L1433.4 669.8 L1434.2 672.8 L1435.0 675.8 L1435.8 678.8 L1436.5 681.8 L1437.3 684.8 L1438.1 687.8 L1438.9 690.8 L1439.7 693.8 L1440.5 696.8 L1441.4 699.9 L1442.2 702.9 L1443.0 705.9 L1443.8 708.9 L1444.6 711.9 L1445.4 714.9 L1446.2 717.9 L1447.0 720.9 L1447.8 723.9 L1448.7 726.9 L1449.5 729.9 L1450.3 732.9 L1451.1 735.9 L1452.0 738.9 L1452.8 741.9 L1453.6 744.9 L1454.4 747.9 L1455.3 750.9 L1456.1 753.9 L1457.0 756.9 L1457.8 759.9 L1458.6 762.9 L1459.5 765.9 L1460.3 768.9 L1461.2 771.9 L1462.0 774.9 L1462.9 777.9 L1463.7 780.9 L1464.6 784.0 L1465.5 787.0 L1466.3 790.0 L1467.2 793.0 L1468.1 796.0 L1468.9 799.0 L1469.8 802.0 L1470.7 805.0 L1471.6 808.0 L1472.5 811.0 L1473.3 814.0 L1474.2 817.0 L1475.1 820.0 L1476.0 823.0 L1476.9 826.0 L1477.8 829.0 L1478.7 832.0 L1479.6 835.0 L1480.5 838.0 L1481.5 841.0 L1482.4 844.0 L1483.3 847.0 L1484.2 850.0 L1485.1 853.0 L1486.1 856.0 L1487.0 859.0 L1488.0 862.0 L1488.9 865.0 L1489.8 868.0 L1490.8 871.1 L1491.7 874.1 L1492.7 877.1 L1493.7 880.1 L1494.6 883.1 L1495.6 886.1 L1496.6 889.1 L1497.5 892.1 L1498.5 895.1 L1499.5 898.1 L1500.5 901.1 L1501.5 904.1 L1502.5 907.1 L1503.5 910.1 L1504.5 913.1 L1505.5 916.1 L1506.5 919.1 L1507.5 922.1 L1508.5 925.1 L1509.6 928.1 L1510.6 931.1 L1511.6 934.1 L1512.7 937.1 L1513.7 940.1 L1514.8 943.1 L1515.8 946.1 L1516.9 949.1 L1517.9 952.1 L1519.0 955.2 L1520.1 958.2 L1521.2 961.2 L1522.2 964.2 L1523.3 967.2 L1524.5 970.2 L1525.6 973.2 L1526.7 976.2 L1527.9 979.2 L1529.1 982.2 L1530.3 985.2 L1531.5 988.2 L1532.7 991.2 L1534.0 994.2 L1535.3 997.2 L1536.7 1000.2 L1538.0 1003.2 L1539.4 1006.2 L1540.8 1009.2 L1542.3 1012.2 L1543.8 1015.2 L1545.4 1018.2 L1546.9 1021.2 L1548.6 1024.2 L1550.2 1027.2 L1552.0 1030.2 L1553.7 1033.2 L1555.5 1036.2 L1557.3 1039.3 L1559.2 1042.3 L1561.1 1045.3 L1563.0 1048.3 L1565.0 1051.3 L1567.0 1054.3 L1569.0 1057.3 L1571.1 1060.3 L1573.2 1063.3 L1575.3 1066.3 L1577.4 1069.3 L1579.6 1072.3 L1581.8 1075.3 L1584.0 1078.3 L1586.2 1081.3 L1588.4 1084.3 L1590.7 1087.3 L1592.9 1090.3 L1595.3 1093.3 L1597.6 1096.3 L1600.0 1099.3 L1602.5 1102.3 L1605.0 1105.3 L1607.6 1108.3 L1610.2 1111.3 L1612.9 1114.3 L1615.8 1117.3 L1618.6 1120.3 L1621.6 1123.3 L1624.7 1126.4 L1627.9 1129.4 L1631.2 1132.4 L1634.6 1135.4 L1638.2 1138.4 L1641.9 1141.4 L1645.7 1144.4 L1649.7 1147.4 L1653.8 1150.4 L1658.1 1153.4 L1662.6 1156.4 L1667.3 1159.4 L1672.2 1162.4 L1677.3 1165.4 L1682.6 1168.4 L1688.1 1171.4 L1693.9 1174.4 L1696.0 1173.5 L1698.0 1175.5 L1700.0 1176.4 L1702.0 1177.6 L1704.0 1178.9 L1706.0 1180.1 L1708.0 1181.3 L1710.0 1182.5 L1712.0 1183.7 L1714.0 1185.0 L1716.0 1186.2 L1718.0 1187.2 L1720.0 1189.1 L1722.0 1189.2 L1724.0 1190.6 L1726.0 1189.8 L1726.7 1191.9 L1728.0 1191.8 L1730.0 1189.6 L1732.0 1191.6 L1732.2 1189.5 L1734.0 1191.5 L1736.0 1192.2 L1738.0 1193.1 L1740.0 1194.0 L1742.0 1194.4 L1744.0 1196.2 L1746.0 1194.9 L1748.0 1196.5 L1750.0 1193.8 L1750.5 1193.1 L1752.0 1196.8 L1754.0 1195.9 L1756.0 1198.5 L1758.0 1197.9 L1760.0 1200.3 L1762.0 1199.5 L1764.0 1202.2 L1766.0 1201.1 L1768.0 1203.6 L1770.0 1202.2 L1772.0 1204.7 L1774.1 1203.0 L1776.1 1205.9 L1778.1 1203.9 L1780.1 1207.1 L1782.1 1205.7 L1784.1 1208.4 L1786.1 1207.5 L1788.1 1209.8 L1790.1 1208.3 L1792.1 1210.0 L1794.1 1208.6 L1796.1 1210.1 L1798.1 1208.9 L1800.1 1210.4 L1802.1 1209.6 L1804.1 1211.1 L1806.1 1210.4 L1808.1 1211.8 L1810.1 1211.0 L1812.1 1212.4 L1814.1 1211.2 L1816.1 1213.0 L1818.1 1211.4 L1820.1 1213.8 L1822.1 1213.7 L1824.1 1215.6 L1826.1 1216.1 L1828.1 1217.6 L1829.3 1219.0 L1830.1 1217.0 L1832.1 1218.9 L1834.1 1217.0 L1836.1 1218.7 L1838.1 1217.2 L1838.5 1217.0 L1840.1 1218.8 L1842.1 1218.5 L1844.1 1220.5 L1846.1 1219.9 L1848.1 1222.3 L1850.1 1221.4 L1852.1 1224.3 L1854.1 1223.1 L1856.1 1227.1 L1858.1 1224.9 L1860.1 1228.6 L1862.1 1226.3 L1864.1 1229.2 L1866.1 1227.2 L1868.1 1229.7 L1870.1 1228.2 L1872.1 1229.9 L1874.1 1228.2 L1875.2 1230.0 L1876.1 1229.8 L1878.1 1228.1 L1880.1 1229.1 L1882.1 1227.8 L1884.1 1228.6 L1886.1 1227.3 L1888.0 1227.0 L1888.1 1229.2 L1890.1 1228.1 L1892.1 1230.0 L1894.1 1229.5 L1896.1 1231.2 L1898.1 1231.1 L1900.1 1232.7 L1902.1 1232.7 L1904.1 1234.2 L1906.1 1234.1 L1908.1 1235.7 L1910.1 1235.3 L1912.1 1236.5 L1914.1 1236.8 L1916.1 1237.5 L1918.1 1238.3 L1920.1 1239.2 L1922.1 1239.9 L1924.1 1240.4 L1926.1 1240.1 L1928.2 1241.5 L1930.2 1239.8 L1932.0 1239.7 L1932.2 1241.7 L1934.2 1241.3 L1936.2 1242.1 L1938.2 1242.8 L1940.2 1243.4 L1942.2 1243.8 L1944.2 1244.4 L1946.2 1243.7 L1948.2 1245.7 L1948.5 1243.5 L1950.2 1244.8 L1952.2 1247.7 L1954.2 1246.5 L1956.2 1250.0 L1958.2 1248.6 L1959.5 1252.9 L1960.2 1252.3 L1962.2 1251.1 L1964.2 1252.9 L1966.2 1251.8 L1968.2 1252.9 L1970.2 1252.0 L1972.2 1253.5 L1974.2 1252.3 L1976.2 1254.3 L1978.2 1253.3 L1980.2 1254.9 L1982.2 1254.2 L1984.2 1255.1 L1986.2 1254.2 L1988.2 1255.4 L1990.2 1254.1 L1992.2 1256.1 L1992.5 1254.0 L1994.2 1254.6 L1996.2 1256.7 L1998.2 1256.2 L2000.2 1257.7 L2002.2 1259.0 L2004.2 1260.5 L2006.2 1262.0 L2008.2 1261.9 L2010.2 1265.4 L2012.2 1263.1 L2014.2 1266.9 L2016.2 1264.1 L2018.2 1267.3 L2020.2 1264.7 L2022.2 1267.8 L2024.2 1265.2 L2026.2 1268.2 L2028.2 1265.2 L2030.2 1268.6 L2032.2 1265.1 L2032.8 1265.0 L2034.2 1269.4 L2036.2 1266.5 L2038.2 1270.2 L2040.1 1270.7 L2040.2 1267.8 L2042.2 1270.6 L2044.2 1268.6 L2046.2 1270.5 L2048.2 1268.0 L2050.2 1270.2 L2052.2 1267.3 L2054.2 1268.7 L2056.2 1266.8 L2058.2 1267.6 L2060.2 1266.6 L2062.2 1267.9 L2064.0 1266.5 L2064.2 1266.7 L2066.2 1268.3 L2068.2 1267.8 L2070.2 1268.9 L2072.2 1268.8 L2074.2 1269.8 L2076.2 1269.8 L2078.2 1270.9 L2080.3 1270.5 L2082.3 1272.1 L2083.5 1272.7 L2084.3 1270.1 L2086.3 1271.5 L2088.3 1269.7 L2090.3 1271.1 L2092.3 1267.9 L2092.7 1266.9 L2094.3 1272.8 L2096.3 1269.1 L2098.2 1275.1 L2098.3 1274.6 L2100.3 1271.4 L2102.3 1273.5 L2104.3 1272.4 L2106.3 1272.9 L2108.3 1272.4 L2110.3 1274.5 L2111.0 1272.4 L2112.3 1273.6 L2112.8 1277.0 L2114.3 1276.7 L2116.3 1275.3 L2118.3 1276.1 L2120.3 1275.2 L2122.3 1274.4 L2124.3 1273.6 L2126.3 1273.0 L2128.3 1272.4 L2130.3 1271.9 L2132.3 1271.4 L2133.0 1271.1 L2134.3 1272.7 L2136.3 1272.8 L2138.3 1275.9 L2140.3 1275.4 L2142.3 1278.8 L2144.0 1279.2 L2144.3 1276.5 L2146.3 1278.6 L2148.3 1276.1 L2150.3 1277.8 L2151.3 1275.7 L2152.3 1275.8 L2154.3 1278.0 L2156.3 1276.3 L2158.3 1278.4 L2160.3 1278.2 L2162.3 1280.2 L2164.3 1280.0 L2166.3 1282.2 L2168.3 1281.4 L2169.6 1284.3 L2170.3 1284.0 L2172.3 1281.9 L2174.3 1283.2 L2176.3 1280.6 L2178.3 1281.4 L2180.3 1278.8 L2182.3 1279.5 L2184.3 1276.0 L2184.3 1276.8 L2186.3 1278.6 L2188.3 1276.3 L2190.3 1277.8 L2192.3 1276.5 L2194.3 1277.0 L2196.3 1275.6 L2198.3 1276.0 L2199.0 1274.7 L2200.3 1274.8 L2202.3 1276.3 L2204.3 1275.0 L2206.3 1278.2 L2206.3 1277.8 L2208.3 1275.2 L2210.3 1276.6 L2212.3 1275.3 L2214.3 1275.9 L2216.3 1275.3 L2218.3 1275.9 L2220.3 1275.3 L2221.0 1275.3 L2222.3 1275.8 L2224.3 1276.0 L2226.3 1276.3 L2228.3 1276.9 L2230.3 1277.8 L2232.3 1277.5 L2233.8 1280.1 L2234.4 1279.7 L2236.4 1278.1 L2238.4 1280.1 L2240.4 1279.0 L2242.4 1280.1 L2244.4 1280.2 L2246.4 1280.8 L2248.4 1281.4 L2250.4 1281.8 L2252.4 1282.9 L2254.4 1282.8 L2256.4 1284.2 L2258.4 1283.4 L2259.5 1285.6 L2260.4 1285.5 L2262.4 1283.7 L2264.4 1285.2 L2266.4 1283.7 L2268.4 1284.7 L2270.4 1282.9 L2270.5 1282.6 L2272.4 1283.9 L2274.4 1283.9 L2276.4 1284.4 L2278.4 1284.8 L2280.4 1285.2 L2282.4 1285.6 L2284.4 1286.1 L2286.4 1286.3 L2288.4 1287.5 L2288.8 1288.0 L2290.4 1285.7 L2292.4 1286.9 L2294.4 1284.9 L2296.4 1286.0 L2298.4 1284.1 L2300.4 1285.4 L2301.6 1283.4 L2302.4 1283.4 L2304.4 1284.9 L2306.4 1283.7 L2308.4 1284.5 L2310.4 1284.1" fill="none" stroke="#d95319" stroke-width="13.0" stroke-linejoin="round" stroke-linecap="butt"/>
<circle cx="2310.4" cy="1284.1" r="6.5" fill="#d95319"/>
<g font-family="'Liberation Sans', Arial, Helvetica, sans-serif" fill="#262626">
<text transform="translate(200.37 84.20) scale(0.9550 1)" font-size="62.0" style="letter-spacing:1.2px"><tspan font-family="IPAGothic, 'Liberation Sans', sans-serif" font-size="60.00" dx="3.20" dy="3.06">1</tspan><tspan dx="1.27" dy="-3.06">0</tspan></text>
<text transform="translate(232.49 255.31) scale(0.9550 1)" font-size="62.0" style="letter-spacing:1.2px">0</text>
<text transform="translate(176.46 426.42) scale(0.9550 1)" font-size="62.0" style="letter-spacing:1.2px">-<tspan font-family="IPAGothic, 'Liberation Sans', sans-serif" font-size="60.00" dx="3.20" dy="3.06">1</tspan><tspan dx="1.27" dy="-3.06">0</tspan></text>
<text transform="translate(176.46 597.53) scale(0.9550 1)" font-size="62.0" style="letter-spacing:1.2px">-20</text>
<text transform="translate(176.46 768.64) scale(0.9550 1)" font-size="62.0" style="letter-spacing:1.2px">-30</text>
<text transform="translate(176.46 939.76) scale(0.9550 1)" font-size="62.0" style="letter-spacing:1.2px">-40</text>
<text transform="translate(176.46 1110.87) scale(0.9550 1)" font-size="62.0" style="letter-spacing:1.2px">-50</text>
<text transform="translate(176.46 1281.98) scale(0.9550 1)" font-size="62.0" style="letter-spacing:1.2px">-60</text>
<text transform="translate(176.46 1453.09) scale(0.9550 1)" font-size="62.0" style="letter-spacing:1.2px">-70</text>
<text transform="translate(176.46 1624.20) scale(0.9550 1)" font-size="62.0" style="letter-spacing:1.2px">-80</text>
<text transform="translate(274.64 1687.10) scale(0.9550 1)" font-size="62.0" style="letter-spacing:1.2px">0</text>
<text transform="translate(562.85 1687.10) scale(0.9550 1)" font-size="62.0" style="letter-spacing:1.2px">2</text>
<text transform="translate(851.07 1687.10) scale(0.9550 1)" font-size="62.0" style="letter-spacing:1.2px">4</text>
<text transform="translate(1139.28 1687.10) scale(0.9550 1)" font-size="62.0" style="letter-spacing:1.2px">6</text>
<text transform="translate(1427.50 1687.10) scale(0.9550 1)" font-size="62.0" style="letter-spacing:1.2px">8</text>
<text transform="translate(1699.48 1687.10) scale(0.9550 1)" font-size="62.0" style="letter-spacing:1.2px"><tspan font-family="IPAGothic, 'Liberation Sans', sans-serif" font-size="60.00" dx="3.20" dy="3.06">1</tspan><tspan dx="1.27" dy="-3.06">0</tspan></text>
<text transform="translate(1987.69 1687.10) scale(0.9550 1)" font-size="62.0" style="letter-spacing:1.2px"><tspan font-family="IPAGothic, 'Liberation Sans', sans-serif" font-size="60.00" dx="3.20" dy="3.06">1</tspan><tspan dx="1.27" dy="-3.06">2</tspan></text>
<text transform="translate(2275.91 1687.10) scale(0.9550 1)" font-size="62.0" style="letter-spacing:1.2px"><tspan font-family="IPAGothic, 'Liberation Sans', sans-serif" font-size="60.00" dx="3.20" dy="3.06">1</tspan><tspan dx="1.27" dy="-3.06">4</tspan></text>
<text x="2166.7" y="1794.8" font-family="'Liberation Sans', Arial, Helvetica, sans-serif" font-size="72.8" fill="#262626" stroke="#fff" stroke-width="2">×</text>
<text transform="translate(2215.50 1785.20) scale(0.9550 1)" font-size="62.0" style="letter-spacing:1.2px"><tspan font-family="IPAGothic, 'Liberation Sans', sans-serif" font-size="60.00" dx="3.20" dy="3.06">1</tspan><tspan dx="1.27" dy="-3.06">0</tspan></text>
<text transform="translate(2283.8 1758.0) scale(0.9200 1)" font-size="49.7" text-anchor="start">4</text>
<text transform="translate(1300.6 1775.0) scale(0.9760 1)" font-size="68.0" text-anchor="middle">Iterations</text>
</g>
<rect x="1618" y="150" width="546.6" height="163.8" fill="#fff" stroke="#262626" stroke-width="4.2"/>
<path d="M1636 195.5 H1819" stroke="#0072bd" stroke-width="13" fill="none"/>
<path d="M1636 269.5 H1819" stroke="#d95319" stroke-width="13" fill="none"/>
<g font-family="'Liberation Sans', Arial, Helvetica, sans-serif" fill="#000">
<text transform="translate(1832.5 217.9) scale(0.9500 1)" font-size="57.4" text-anchor="start">SKF-BF</text>
<text transform="translate(1832.5 291.8) scale(0.9500 1)" font-size="57.4" text-anchor="start">Regular SKF</text>
</g>
<g transform="translate(115.8 1039.2) rotate(-90)" font-family="'Liberation Serif', 'Times New Roman', Times, serif" fill="#262626">
<text transform="translate(-2.04 0.00) scale(0.9720 1)" font-size="72.5" x="0.00 52.37">NM</text>
<text transform="translate(119.06 26.13) scale(0.4911 1.0000)" font-size="149.76" font-weight="normal">[</text>
<text transform="translate(142.83 0.00) scale(1.1270 1.0000)" font-size="72.5" font-weight="bold">f</text>
<text transform="translate(174.35 2.00) scale(0.8519 1.0000)" font-size="72.5" font-weight="normal">,</text>
<text transform="translate(203.63 0.00) scale(1.1270 1.0000)" font-size="72.5" font-weight="bold">f</text>
<text transform="translate(196.23 -50.69) scale(1.2482 0.3708)" font-size="72.5" font-weight="normal" stroke="#262626" stroke-width="1.2">^</text>
<text transform="translate(230.35 26.13) scale(0.4911 1.0000)" font-size="149.76" font-weight="normal">]</text>
<text transform="translate(289.64 1.04) scale(0.8566 1.0000)" font-size="75.85" font-weight="normal">(</text>
<text transform="translate(311.52 0.30) scale(1.0250 1)" font-size="72.5" x="0.00 36.31">dB</text>
<text transform="translate(397.92 1.04) scale(0.8566 1.0000)" font-size="75.85" font-weight="normal">)</text>
</g>
</svg>
</body>
</html>
